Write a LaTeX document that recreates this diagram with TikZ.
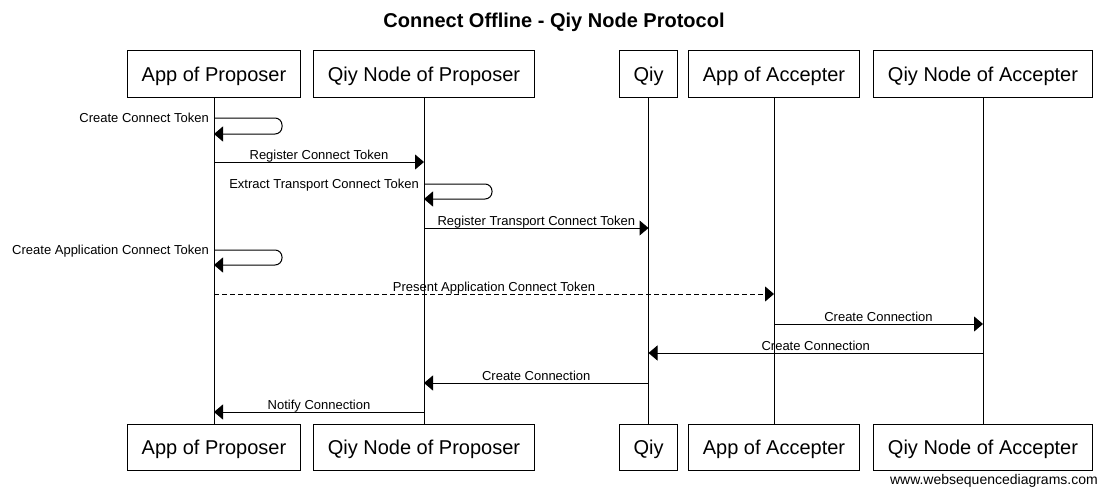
\documentclass[tikz,border=0pt]{standalone}
\usepackage{fontspec}
\setmainfont{Liberation Sans}
\usetikzlibrary{arrows.meta}
\tikzset{
  actor/.style={draw=black, line width=1pt, minimum height=46pt, inner xsep=14pt, text depth=0pt, font=\fontsize{20}{24}\selectfont},
  lifeline/.style={black, line width=1pt},
  msg/.style={black, line width=1pt, -{Triangle[length=9pt,width=15pt]}},
  selfmsg/.style={msg, rounded corners=7pt},
  msglabel/.style={font=\fontsize{13}{15}\selectfont, inner sep=0pt, text depth=0pt}
}
\begin{document}
\begin{tikzpicture}[x=1pt,y=-1pt]
\useasboundingbox (0,0) rectangle (1108,495);
\node[font=\bfseries\fontsize{20}{24}\selectfont, text depth=0pt] (title) at (554,20) {Connect Offline - Qiy Node Protocol};
\node[actor] (appP) at (214,74) {App of Proposer};
\node[actor] (nodeP) at (424,74) {Qiy Node of Proposer};
\node[actor] (qiy) at (648.5,74) {Qiy};
\node[actor] (appA) at (774,74) {App of Accepter};
\node[actor] (nodeA) at (983,74) {Qiy Node of Accepter};
\node[actor] (appPb) at (214,447.5) {App of Proposer};
\node[actor] (nodePb) at (424,447.5) {Qiy Node of Proposer};
\node[actor] (qiyb) at (648.5,447.5) {Qiy};
\node[actor] (appAb) at (774,447.5) {App of Accepter};
\node[actor] (nodeAb) at (983,447.5) {Qiy Node of Accepter};
\draw[lifeline] (appP) -- (appPb);
\draw[lifeline] (nodeP) -- (nodePb);
\draw[lifeline] (qiy) -- (qiyb);
\draw[lifeline] (appA) -- (appAb);
\draw[lifeline] (nodeA) -- (nodeAb);
\draw[selfmsg] (appP |- 0,118) -- ++(68,0) -- ++(0,16) -- (appP |- 0,134);
\node[msglabel, anchor=east, xshift=-5pt] (m1) at (appP |- 0,118) {Create Connect Token};
\draw[msg] (appP |- 0,162) -- node[msglabel, above=2.5pt] (m2) {Register Connect Token} (nodeP |- 0,162);
\draw[selfmsg] (nodeP |- 0,184) -- ++(68,0) -- ++(0,15) -- (nodeP |- 0,199);
\node[msglabel, anchor=east, xshift=-5pt] (m3) at (nodeP |- 0,184) {Extract Transport Connect Token};
\draw[msg] (nodeP |- 0,228) -- node[msglabel, above=2.5pt] (m4) {Register Transport Connect Token} (qiy |- 0,228);
\draw[selfmsg] (appP |- 0,250) -- ++(68,0) -- ++(0,15) -- (appP |- 0,265);
\node[msglabel, anchor=east, xshift=-5pt] (m5) at (appP |- 0,250) {Create Application Connect Token};
\draw[msg, dash pattern=on 5pt off 3pt] (appP |- 0,294) -- node[msglabel, above=2.5pt] (m6) {Present Application Connect Token} (appA |- 0,294);
\draw[msg] (appA |- 0,324) -- node[msglabel, above=2.5pt] (m7) {Create Connection} (nodeA |- 0,324);
\draw[msg] (nodeA |- 0,353) -- node[msglabel, above=2.5pt] (m8) {Create Connection} (qiy |- 0,353);
\draw[msg] (qiy |- 0,383) -- node[msglabel, above=2.5pt] (m9) {Create Connection} (nodeP |- 0,383);
\draw[msg] (nodeP |- 0,412) -- node[msglabel, above=2.5pt] (m10) {Notify Connection} (appP |- 0,412);
\node[font=\fontsize{14}{16}\selectfont, anchor=east, inner sep=0pt, text depth=0pt] (wsd) at (1098,479) {www.websequencediagrams.com};
\end{tikzpicture}
\end{document}
